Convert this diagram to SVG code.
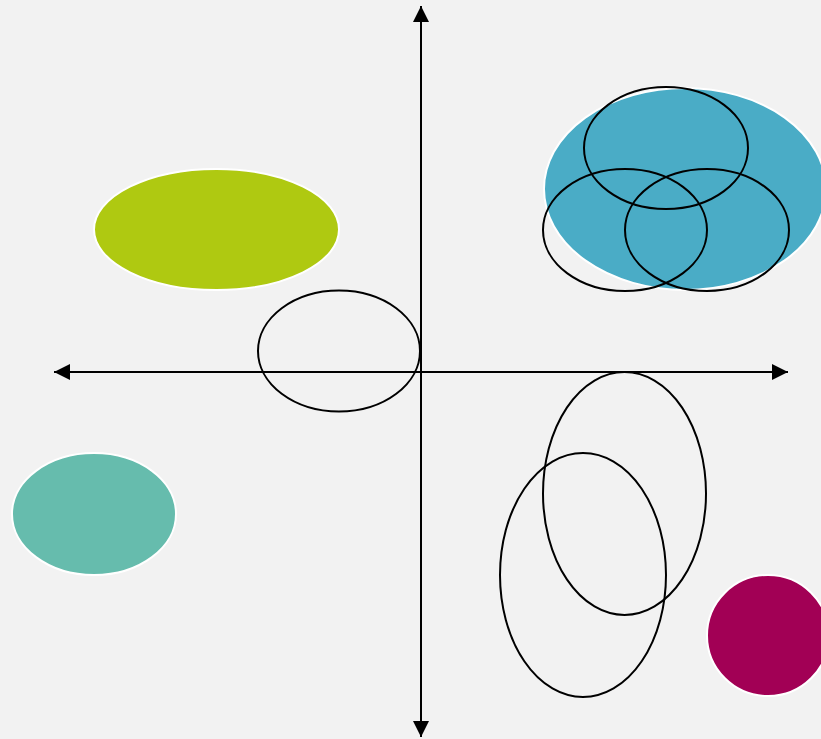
<svg xmlns="http://www.w3.org/2000/svg" width="821" height="739" viewBox="0 0 821 739">
<style>
.fill{stroke:#ffffff;stroke-width:2}
.outline{fill:none;stroke:#000000;stroke-width:2}
.axis{stroke:#000000;stroke-width:2;fill:none}
</style>
<defs>
<marker id="arr" viewBox="0 0 16 16" refX="16" refY="8" markerWidth="16" markerHeight="16" markerUnits="userSpaceOnUse" orient="auto">
<path d="M0,0 L16,8 L0,16 Z" fill="#000000"/>
</marker>
</defs>
<rect width="821" height="739" fill="#f2f2f2"/>
<g id="green"><ellipse class="fill" cx="216.5" cy="229.5" rx="122.5" ry="60.5" fill="#afc911"/></g>
<g id="teal"><ellipse class="fill" cx="94" cy="514" rx="82" ry="61" fill="#66bcad"/></g>
<g id="blue"><ellipse class="fill" cx="685" cy="189" rx="141" ry="101" fill="#4aacc6"/></g>
<g id="magenta"><ellipse class="fill" cx="768" cy="635.5" rx="61" ry="60.5" fill="#a20055"/></g>
<g id="connectors">
<line class="axis" x1="421" y1="372" x2="54" y2="372" marker-end="url(#arr)"/>
<line class="axis" x1="421" y1="372" x2="788" y2="372" marker-end="url(#arr)"/>
<line class="axis" x1="421" y1="372" x2="421" y2="6" marker-end="url(#arr)"/>
<line class="axis" x1="421" y1="372" x2="421" y2="737" marker-end="url(#arr)"/>
</g>
<g id="outline-center"><ellipse class="outline" cx="339" cy="351" rx="81" ry="60.5"/></g>
<g id="outline-top"><ellipse class="outline" cx="666" cy="148" rx="82" ry="61"/></g>
<g id="outline-left"><ellipse class="outline" cx="625" cy="230" rx="82" ry="61"/></g>
<g id="outline-right"><ellipse class="outline" cx="707" cy="230" rx="82" ry="61"/></g>
<g id="outline-v1"><ellipse class="outline" cx="624.5" cy="493.5" rx="81.5" ry="121.5"/></g>
<g id="outline-v2"><ellipse class="outline" cx="583" cy="575" rx="83" ry="122"/></g>
</svg>
